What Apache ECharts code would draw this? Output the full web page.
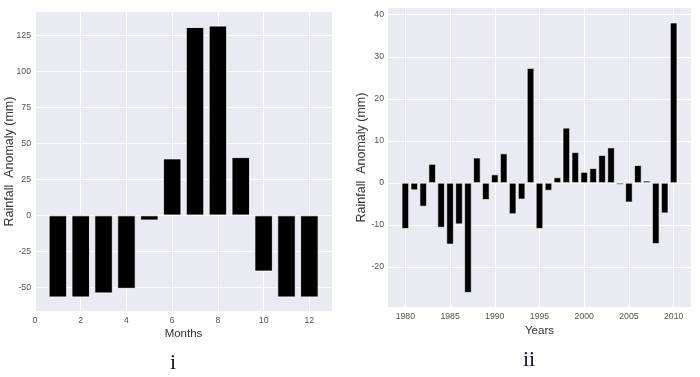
<!DOCTYPE html>
<html>
<head>
<meta charset="utf-8">
<script src="https://cdn.jsdelivr.net/npm/echarts@6/dist/echarts.min.js"></script>
<style>
html,body{margin:0;padding:0;background:#fff;}
#c{width:700px;height:377px;}
</style>
</head>
<body>
<div id="c"></div>
<script>
var months = [1,2,3,4,5,6,7,8,9,10,11,12];
var monthAnomaly = [-57,-57,-54.2,-51,-3.5,39.6,131,132,40.5,-39,-57,-57];
var years = [1980,1981,1982,1983,1984,1985,1986,1987,1988,1989,1990,1991,1992,1993,1994,1995,1996,1997,1998,1999,2000,2001,2002,2003,2004,2005,2006,2007,2008,2009,2010];
var yearAnomaly = [-10.9,-1.7,-5.6,4.5,-10.6,-14.6,-9.8,-26.1,6.0,-4.0,2.0,7.0,-7.4,-3.9,27.3,-10.9,-1.8,1.3,13.1,7.3,2.6,3.5,6.6,8.4,-0.4,-4.6,4.2,0.5,-14.5,-7.2,38.1];
var monthTicks = [0,2,4,6,8,10,12];
var monthYTicks = [-50,-25,0,25,50,75,100,125];
var yearTicks = [1980,1985,1990,1995,2000,2005,2010];
var yearYTicks = [-20,-10,0,10,20,30,40];

var FONT = "'Liberation Sans',Arial,sans-serif";
var chart = echarts.init(document.getElementById('c'), null, {renderer:'canvas'});

function fmt(list){
  return function(v){
    for (var i=0;i<list.length;i++){ if (Math.abs(list[i]-v) < 1e-6) return String(list[i]); }
    return '';
  };
}
function pairs(xs, ys){ return xs.map(function(x,i){ return [x, ys[i]]; }); }

var labelStyle = {color:'#505050', fontSize:8.7, fontFamily:FONT};
var nameStyle = {color:'#333333', fontSize:12.5, fontFamily:FONT};
var split = {show:true, lineStyle:{color:'#ffffff', width:1}};

function axisCommon(gi, min, max, ticks, margin){
  return {type:'value', gridIndex:gi, min:min, max:max,
    axisLine:{show:false},
    axisTick:{show:false, customValues:ticks},
    splitLine:split,
    nameMoveOverlap:false,
    axisLabel:Object.assign({margin:margin, customValues:ticks, formatter:fmt(ticks)}, labelStyle)};
}
function xAxis(gi, min, max, ticks, name, gap){
  var a = axisCommon(gi, min, max, ticks, 5);
  a.name = name; a.nameLocation = 'middle'; a.nameGap = gap;
  a.nameTextStyle = Object.assign({}, nameStyle, {fontSize:11.5});
  return a;
}
function yAxis(gi, min, max, ticks, gap){
  var a = axisCommon(gi, min, max, ticks, 4);
  a.name = 'Rainfall  Anomaly (mm)'; a.nameLocation = 'middle'; a.nameGap = gap; a.nameRotate = 90;
  a.nameTextStyle = nameStyle;
  return a;
}

chart.setOption({
  animation:false,
  backgroundColor:'#ffffff',
  title:[
    {text:'i', left:168, top:347, textAlign:'center', textStyle:{fontFamily:"'Liberation Serif','Times New Roman',serif", fontSize:22, fontWeight:'normal', color:'#14143a'}},
    {text:'ii', left:524, top:344, textAlign:'center', textStyle:{fontFamily:"'Liberation Serif','Times New Roman',serif", fontSize:22, fontWeight:'normal', color:'#14143a'}}
  ],
  grid:[
    {left:35, right:368, top:12, bottom:66, show:true, backgroundColor:'#EAEAF2', borderWidth:0, containLabel:false, outerBoundsMode:'none'},
    {left:388, right:9, top:8, bottom:70, show:true, backgroundColor:'#EAEAF2', borderWidth:0, containLabel:false, outerBoundsMode:'none'}
  ],
  xAxis:[
    xAxis(0, 0, 12.99, monthTicks, 'Months', 17),
    xAxis(1, 1978.06, 2011.94, yearTicks, 'Years', 18)
  ],
  yAxis:[
    yAxis(0, -66.5, 141.5, monthYTicks, 19),
    yAxis(1, -29.5, 41.6, yearYTicks, 20)
  ],
  series:[
    {type:'bar', xAxisIndex:0, yAxisIndex:0, data:pairs(months, monthAnomaly), barWidth:18.3,
     itemStyle:{color:'#000000', borderColor:'#ffffff', borderWidth:0.8}},
    {type:'bar', xAxisIndex:1, yAxisIndex:1, data:pairs(years, yearAnomaly), barWidth:7.2, barMinHeight:1,
     itemStyle:{color:'#000000', borderColor:'#ffffff', borderWidth:0.6}}
  ]
});
</script>
</body>
</html>
